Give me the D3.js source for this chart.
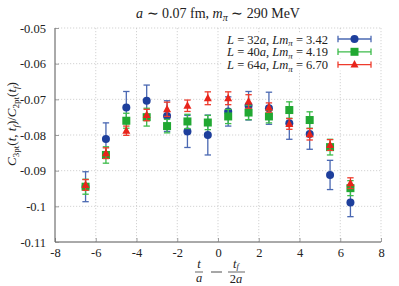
<!DOCTYPE html>
<html>
<head>
<meta charset="utf-8">
<script src="https://cdn.jsdelivr.net/npm/d3@7"></script>
<style>
  body { margin: 0; background: #fff; }
  text { font-family: "Liberation Serif", serif; fill: #222; }
</style>
</head>
<body>
<script>
// x positions t/a - tf/2a
var xs = [-6.5, -5.5, -4.5, -3.5, -2.5, -1.5, -0.5, 0.5, 1.5, 2.5, 3.5, 4.5, 5.5, 6.5];

// L = 32a
var blueY   = [-0.0945, -0.0811, -0.0723, -0.0704, -0.0747, -0.0790, -0.0800, -0.0734, -0.0718, -0.0725, -0.0767, -0.0797, -0.0912, -0.0989];
var blueErr = [0.0042, 0.0045, 0.0045, 0.0044, 0.0043, 0.0045, 0.0056, 0.0041, 0.0040, 0.0045, 0.0045, 0.0043, 0.0041, 0.0040];
// L = 40a
var greenY   = [-0.0945, -0.0856, -0.0760, -0.0750, -0.0775, -0.0762, -0.0765, -0.0748, -0.0737, -0.0748, -0.0730, -0.0758, -0.0834, -0.0949];
var greenErr = [0.0021, 0.0023, 0.0021, 0.0025, 0.0019, 0.0020, 0.0020, 0.0020, 0.0020, 0.0018, 0.0023, 0.0023, 0.0022, 0.0021];
// L = 64a
var redY   = [-0.0940, -0.0851, -0.0788, -0.0744, -0.0728, -0.0718, -0.0697, -0.0697, -0.0706, -0.0723, -0.0769, -0.0798, -0.0828, -0.0935];
var redErr = [0.0015, 0.0015, 0.0013, 0.0016, 0.0020, 0.0016, 0.0018, 0.0018, 0.0019, 0.0013, 0.0015, 0.0016, 0.0015, 0.0015];

var xTicks = [-8, -6, -4, -2, 0, 2, 4, 6, 8];
var xTickLabels = ["-8", "-6", "-4", "-2", "0", "2", "4", "6", "8"];
var yTicks = [-0.05, -0.06, -0.07, -0.08, -0.09, -0.1, -0.11];
var yTickLabels = ["-0.05", "-0.06", "-0.07", "-0.08", "-0.09", "-0.1", "-0.11"];

var W = 399, H = 286;
var mLeft = 55, mRight = 381, mTop = 28, mBottom = 242;

var svg = d3.select("body").append("svg")
    .attr("width", W)
    .attr("height", H);

var x = d3.scaleLinear().domain([-8, 8]).range([mLeft, mRight]);
var y = d3.scaleLinear().domain([-0.11, -0.05]).range([mBottom, mTop]);

// grid
var grid = svg.append("g")
    .attr("stroke", "#c8c8c8")
    .attr("stroke-width", 0.8)
    .attr("stroke-dasharray", "1.2,1.8");
grid.selectAll("line.gx")
    .data(xTicks.filter(d => d > -8))
    .join("line")
    .attr("x1", d => x(d)).attr("x2", d => x(d))
    .attr("y1", mTop).attr("y2", mBottom);
grid.selectAll("line.gy")
    .data(yTicks.filter(d => d > -0.11))
    .join("line")
    .attr("x1", mLeft).attr("x2", mRight)
    .attr("y1", d => y(d)).attr("y2", d => y(d));

// axes (left + bottom solid)
var xAxis = svg.append("g")
    .attr("transform", "translate(0," + mBottom + ")")
    .call(d3.axisBottom(x).tickValues(xTicks).tickSize(-4).tickPadding(6).tickFormat((d, i) => xTickLabels[i]));
var yAxis = svg.append("g")
    .attr("transform", "translate(" + mLeft + ",0)")
    .call(d3.axisLeft(y).tickValues(yTicks).tickSize(-4).tickPadding(9).tickFormat((d, i) => yTickLabels[i]));
[xAxis, yAxis].forEach(function (a) {
    a.attr("font-family", null);
    a.select(".domain").attr("stroke", "#555").attr("stroke-width", 1);
    a.selectAll(".tick line").attr("stroke", "#888").attr("stroke-width", 0.8);
    a.selectAll(".tick text")
        .style("font-family", "'Liberation Serif', serif")
        .style("font-size", "12.5px")
        .attr("fill", "#222");
});
xAxis.select(".domain").attr("d", "M" + mLeft + ",0H" + mRight);
yAxis.select(".domain").attr("d", "M0," + mBottom + "V" + mTop);

var series = [
    { name: "L = 32a", ys: blueY, es: blueErr, bar: "#4a68b2", fill: "#1e3f9c", shape: "circle" },
    { name: "L = 40a", ys: greenY, es: greenErr, bar: "#3cbb4a", fill: "#21a832", shape: "square" },
    { name: "L = 64a", ys: redY, es: redErr, bar: "#ee3b2c", fill: "#e8241b", shape: "triangle" }
];

function marker(g, shape, fill) {
    if (shape === "circle") {
        g.append("circle").attr("r", 4).attr("fill", fill);
    } else if (shape === "square") {
        g.append("rect").attr("x", -4).attr("y", -4).attr("width", 8).attr("height", 8).attr("fill", fill);
    } else {
        g.append("path").attr("d", "M0,-4.5L4,3L-4,3Z").attr("fill", fill);
    }
}

var capW = 3.2;
series.forEach(function (s) {
    var g = svg.append("g");
    var pts = xs.map((xv, i) => ({ x: xv, y: s.ys[i], e: s.es[i] }));
    var eb = g.selectAll("g.eb").data(pts).join("g")
        .attr("stroke", s.bar).attr("stroke-width", 1.3);
    eb.append("line")
        .attr("x1", d => x(d.x)).attr("x2", d => x(d.x))
        .attr("y1", d => y(d.y + d.e)).attr("y2", d => y(d.y - d.e));
    eb.append("line")
        .attr("x1", d => x(d.x) - capW).attr("x2", d => x(d.x) + capW)
        .attr("y1", d => y(d.y + d.e)).attr("y2", d => y(d.y + d.e));
    eb.append("line")
        .attr("x1", d => x(d.x) - capW).attr("x2", d => x(d.x) + capW)
        .attr("y1", d => y(d.y - d.e)).attr("y2", d => y(d.y - d.e));
    g.selectAll("g.m").data(pts).join("g")
        .attr("transform", d => "translate(" + x(d.x) + "," + y(d.y) + ")")
        .each(function () { marker(d3.select(this), s.shape, s.fill); });
});

// legend
var legLabels = [["32", "3.42"], ["40", "4.19"], ["64", "6.70"]];
var leg = svg.append("g");
series.forEach(function (s, i) {
    var ly = 39 + i * 12.8;
    leg.append("rect").attr("x", 222).attr("y", ly - 6).attr("width", 154).attr("height", 12).attr("fill", "#fff");
    var t = leg.append("text").attr("x", 328).attr("y", ly + 4.5).attr("text-anchor", "end").style("font-size", "12.5px");
    t.append("tspan").attr("font-style", "italic").text("L");
    t.append("tspan").text(" = " + legLabels[i][0]);
    t.append("tspan").attr("font-style", "italic").text("a");
    t.append("tspan").text(", ");
    t.append("tspan").attr("font-style", "italic").text("Lm");
    t.append("tspan").attr("font-style", "italic").attr("font-size", "9px").attr("dy", 2.5).text("π");
    t.append("tspan").attr("dy", -2.5).text(" = " + legLabels[i][1]);
    var lg = leg.append("g").attr("stroke", s.bar).attr("stroke-width", 1.3);
    lg.append("line").attr("x1", 338).attr("x2", 371).attr("y1", ly).attr("y2", ly);
    lg.append("line").attr("x1", 338).attr("x2", 338).attr("y1", ly - 3.2).attr("y2", ly + 3.2);
    lg.append("line").attr("x1", 371).attr("x2", 371).attr("y1", ly - 3.2).attr("y2", ly + 3.2);
    var mg = leg.append("g").attr("transform", "translate(354.5," + ly + ")");
    marker(mg, s.shape, s.fill);
});

// title
var title = svg.append("text").attr("x", 218).attr("y", 18).attr("text-anchor", "middle").style("font-size", "14px");
title.append("tspan").attr("font-style", "italic").text("a");
title.append("tspan").text(" ∼ 0.07 fm, ");
title.append("tspan").attr("font-style", "italic").text("m");
title.append("tspan").attr("font-style", "italic").attr("font-size", "10px").attr("dy", 3).text("π");
title.append("tspan").attr("dy", -3).text(" ∼ 290 MeV");

// y label
var yl = svg.append("text")
    .attr("transform", "translate(16,124) rotate(-90)")
    .attr("text-anchor", "middle")
    .style("font-size", "13px");
yl.append("tspan").attr("font-style", "italic").text("C");
yl.append("tspan").attr("font-size", "9px").attr("dy", 3).text("3pt");
yl.append("tspan").attr("dy", -3).text("(");
yl.append("tspan").attr("font-style", "italic").text("t, t");
yl.append("tspan").attr("font-size", "9px").attr("font-style", "italic").attr("dy", 3).text("f");
yl.append("tspan").attr("dy", -3).text(")/");
yl.append("tspan").attr("font-style", "italic").text("C");
yl.append("tspan").attr("font-size", "9px").attr("dy", 3).text("2pt");
yl.append("tspan").attr("dy", -3).text("(");
yl.append("tspan").attr("font-style", "italic").text("t");
yl.append("tspan").attr("font-size", "9px").attr("font-style", "italic").attr("dy", 3).text("f");
yl.append("tspan").attr("dy", -3).text(")");

// x label as fraction
var xl = svg.append("g").style("font-size", "12.5px");
xl.append("text").attr("x", 199).attr("y", 268).attr("text-anchor", "middle").attr("font-style", "italic").text("t");
xl.append("line").attr("x1", 195).attr("x2", 203).attr("y1", 272).attr("y2", 272).attr("stroke", "#222").attr("stroke-width", 0.7);
xl.append("text").attr("x", 199).attr("y", 282).attr("text-anchor", "middle").attr("font-style", "italic").text("a");
xl.append("line").attr("x1", 211).attr("x2", 222).attr("y1", 272).attr("y2", 272).attr("stroke", "#222").attr("stroke-width", 0.8);
var tf = xl.append("text").attr("x", 236).attr("y", 268).attr("text-anchor", "middle").attr("font-style", "italic");
tf.append("tspan").text("t");
tf.append("tspan").attr("font-size", "8.5px").attr("dy", 1).text("f");
xl.append("line").attr("x1", 228).attr("x2", 245).attr("y1", 272).attr("y2", 272).attr("stroke", "#222").attr("stroke-width", 0.7);
var ta = xl.append("text").attr("x", 236).attr("y", 283).attr("text-anchor", "middle");
ta.append("tspan").text("2");
ta.append("tspan").attr("font-style", "italic").text("a");
</script>
</body>
</html>
